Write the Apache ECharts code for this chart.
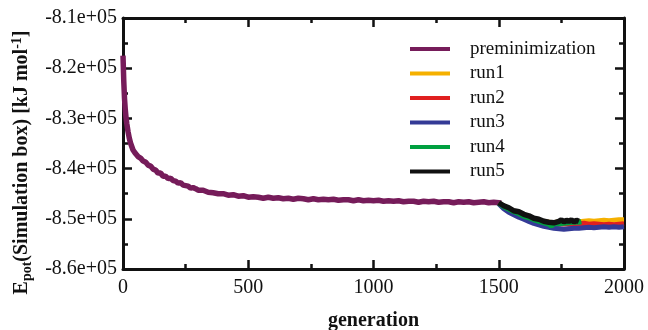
<!DOCTYPE html>
<html><head><meta charset="utf-8">
<script src="https://cdn.jsdelivr.net/npm/echarts@6/dist/echarts.min.js"></script>
<style>html,body{margin:0;padding:0;background:#fff}#c{width:648px;height:330px}</style>
</head><body><div id="c"></div>
<script>
// ---- data ----
const seriesNames = ['preminimization','run1','run2','run3','run4','run5'];
const xTicks = [0,500,1000,1500,2000];
const yTicks = [-860000,-850000,-840000,-830000,-820000,-810000];

const preGen = [0,3,6,9,12,15,20,25,30,40,50,60,70,80,90,100,110,120,130,140,150,160,170,180,190,200,210,220,230,240,250,260,270,280,290,300,
320,340,360,380,400,420,440,460,480,500,520,540,560,580,600,620,640,660,680,700,720,740,760,780,800,820,840,860,880,900,920,940,960,980,
1000,1020,1040,1060,1080,1100,1120,1140,1160,1180,1200,1220,1240,1260,1280,1300,1320,1340,1360,1380,1400,1420,1440,1460,1480,1500,1510];
const preVal = [-817500,-822500,-826000,-828200,-829800,-831000,-832600,-833900,-834900,-836300,-837000,-837600,-837900,-838500,-838700,-839300,-839500,-840100,-840300,-840900,-840900,-841500,-841500,-842000,-841900,-842400,-842500,-842900,-842800,-843300,-843400,-843500,-843900,-843800,-844000,-844300,
-844300,-844700,-844800,-845000,-845000,-845300,-845200,-845500,-845400,-845700,-845600,-845700,-845900,-845700,-845900,-845800,-846000,-845900,-846100,-845900,-846000,-846200,-846000,-846200,-846100,-846200,-846100,-846300,-846200,-846200,-846400,-846200,-846400,-846300,
-846400,-846300,-846500,-846400,-846500,-846400,-846600,-846500,-846500,-846700,-846500,-846600,-846500,-846700,-846600,-846600,-846800,-846600,-846700,-846600,-846800,-846700,-846600,-846800,-846700,-846800,-846900];

const runGen = [1500,1520,1540,1560,1580,1600,1620,1640,1660,1680,1700,1720,1740,1760,1780,1800,1820,1840,1860,1880,1900,1920,1940,1960,1980,2000];
const run1Val = [-846900,-847500,-848000,-848500,-848800,-849300,-849600,-850000,-850300,-850600,-850700,-850800,-850600,-850600,-850500,-850600,-850600,-850500,-850400,-850500,-850400,-850300,-850400,-850300,-850200,-850200];
const run2Val = [-846900,-847700,-848300,-848800,-849200,-849700,-850000,-850400,-850700,-851000,-851000,-851200,-851100,-851000,-851100,-851000,-851000,-850900,-851100,-851000,-851100,-851200,-851100,-851200,-851100,-851000];
const run3Val = [-847000,-848000,-848700,-849200,-849700,-850100,-850500,-850900,-851200,-851500,-851700,-851900,-852000,-852100,-852000,-851900,-851900,-851800,-851700,-851800,-851700,-851600,-851700,-851600,-851700,-851600];
const run4Gen = [1500,1520,1540,1560,1580,1600,1620,1640,1660,1680,1700,1710,1720,1740,1760,1780,1800,1820,1830];
const run4Val = [-846900,-847600,-848100,-848600,-849000,-849500,-849800,-850200,-850500,-850800,-851100,-851500,-851000,-851000,-850900,-850800,-850700,-850700,-850600];
const run5Gen = [1500,1520,1540,1560,1580,1600,1620,1640,1660,1680,1700,1720,1740,1750,1760,1770,1780,1790,1800,1810,1820];
const run5Val = [-846800,-847400,-847800,-848400,-848600,-849100,-849400,-849900,-850100,-850500,-850700,-850800,-850500,-850200,-850600,-850300,-850500,-850200,-850600,-850300,-850500];

const colors = ['#761c5a','#f5b000','#e02020','#343a96','#00a040','#111111'];

// ---- chart ----
const F = 'Liberation Serif';
const pairs = (g, v) => g.map((x, i) => [x, v[i]]);
const chart = echarts.init(document.getElementById('c'), null, {renderer: 'canvas'});
const axisLine = {onZero: false, lineStyle: {color: '#111', width: 3}};
const tick = {inside: true, length: 9, lineStyle: {color: '#111', width: 2.5}};
const minor = {show: true, splitNumber: 2, length: 5, lineStyle: {color: '#111', width: 2.5}};
const xBase = {type: 'value', min: xTicks[0], max: xTicks[xTicks.length-1], interval: xTicks[1]-xTicks[0], axisLine, axisTick: tick, minorTick: minor, splitLine: {show: false}};
const yBase = {type: 'value', min: yTicks[0], max: yTicks[yTicks.length-1], interval: yTicks[1]-yTicks[0], axisLine, axisTick: tick, minorTick: minor, splitLine: {show: false}};

const data = [pairs(preGen, preVal), pairs(runGen, run1Val), pairs(runGen, run2Val), pairs(runGen, run3Val), pairs(run4Gen, run4Val), pairs(run5Gen, run5Val)];
const widths = [5.5, 5, 5, 5, 5, 5.5];

chart.setOption({
  animation: false,
  grid: {left: 123, right: 24, top: 18, bottom: 61, containLabel: false, outerBoundsMode: 'none'},
  xAxis: [
    Object.assign({}, xBase, {position: 'bottom', name: 'generation', nameLocation: 'middle', nameGap: 42,
      nameTextStyle: {fontFamily: F, fontWeight: 'bold', fontSize: 20, color: '#111'},
      axisLabel: {fontFamily: F, fontSize: 20, color: '#111', margin: 9, formatter: v => String(v)}}),
    Object.assign({}, xBase, {position: 'top', axisLabel: {show: false}})
  ],
  yAxis: [
    Object.assign({}, yBase, {position: 'left', name: '{b|E}{sub|pot}{b|(Simulation box) [kJ mol}{sup|-1}{b|]}', nameLocation: 'middle', nameGap: 89,
      nameTextStyle: {fontFamily: F, fontWeight: 'bold', fontSize: 20, color: '#111', padding: [0, 38, 0, 0],
        rich: {
          b: {fontFamily: F, fontWeight: 'bold', fontSize: 20, color: '#111', lineHeight: 24},
          sub: {fontFamily: F, fontWeight: 'bold', fontSize: 14, color: '#111', verticalAlign: 'bottom', lineHeight: 24, padding: [8, 0, 0, 0]},
          sup: {fontFamily: F, fontWeight: 'bold', fontSize: 14, color: '#111', verticalAlign: 'top', lineHeight: 24, padding: [0, 0, 8, 0]}
        }},
      axisLabel: {fontFamily: F, fontSize: 20, color: '#111', margin: 6, formatter: v => (v/1e5).toFixed(1) + 'e+05'}}),
    Object.assign({}, yBase, {position: 'right', axisLabel: {show: false}})
  ],
  legend: {
    orient: 'vertical', left: 405, top: 34, itemWidth: 40, itemHeight: 4, itemGap: 4.5, icon: 'rect',
    textStyle: {fontFamily: F, fontSize: 19, color: '#111', lineHeight: 20, padding: [0, 0, 0, 15]},
    data: seriesNames
  },
  series: seriesNames.map((n, i) => ({
    name: n, type: 'line', data: data[i], showSymbol: false, symbol: 'none',
    color: colors[i], lineStyle: {color: colors[i], width: widths[i]}, z: 2 + i
  }))
});
</script></body></html>
